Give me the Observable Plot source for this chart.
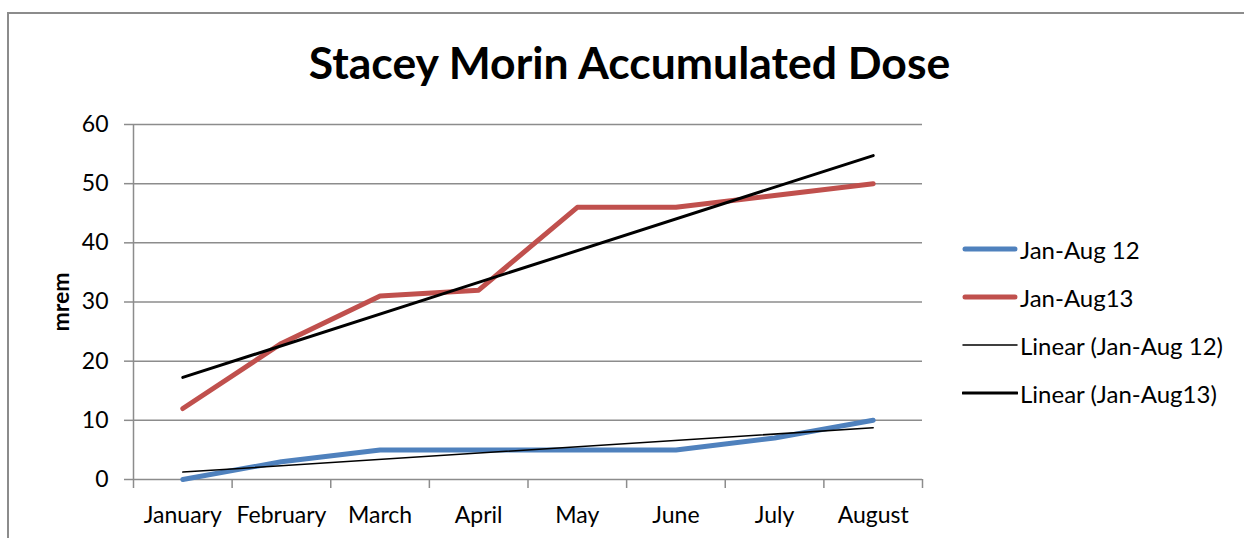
<!DOCTYPE html>
<html>
<head>
<meta charset="utf-8">
<script src="https://cdn.jsdelivr.net/npm/d3@7"></script>
<script src="https://cdn.jsdelivr.net/npm/@observablehq/plot@0.6"></script>
<style>
  html, body { margin: 0; padding: 0; background: #fff; }
  body { width: 1244px; height: 538px; overflow: hidden; position: relative; font-family: Lato, "Open Sans", sans-serif; }
  #frame { position: absolute; left: 7px; top: 12px; width: 1300px; height: 600px; border-left: 2px solid #8c8c8c; border-top: 2px solid #8c8c8c; box-sizing: border-box; }
  #chart { position: absolute; left: 0; top: 0; }
  #title { position: absolute; left: 0; width: 1259px; top: 35px; text-align: center; font-size: 44.5px; font-weight: bold; color: #000; white-space: nowrap; }
  #ylabel { position: absolute; left: 60px; top: 302px; transform: translate(-50%, -50%) rotate(-90deg); font-size: 23px; font-weight: bold; white-space: nowrap; }
  #legend { position: absolute; left: 962px; top: 225px; font-size: 24px; }
  .row { display: flex; align-items: center; height: 48px; white-space: nowrap; }
  .row svg { margin-right: 2px; }
</style>
</head>
<body>
<div id="frame"></div>
<div id="chart"></div>
<div id="title">Stacey Morin Accumulated Dose</div>
<div id="ylabel">mrem</div>
<div id="legend"></div>
<script>
const months = ["January", "February", "March", "April", "May", "June", "July", "August"];
const series12 = [0, 3, 5, 5, 5, 5, 7, 10];
const series13 = [12, 23, 31, 32, 46, 46, 48, 50];
const yTicks = [0, 10, 20, 30, 40, 50, 60];
const seriesNames = ["Jan-Aug 12", "Jan-Aug13"];
const seriesColors = ["#4F81BD", "#C0504D"];

const data12 = months.map((m, i) => ({i: i + 1, month: m, value: series12[i]}));
const data13 = months.map((m, i) => ({i: i + 1, month: m, value: series13[i]}));
const boundaries = d3.range(0.5, months.length + 1, 1);

const plot = Plot.plot({
  width: 1244,
  height: 538,
  marginLeft: 133,
  marginRight: 322,
  marginTop: 124,
  marginBottom: 59,
  style: {fontFamily: "Lato, 'Open Sans', sans-serif", fontSize: "23px", color: "#000", background: "transparent"},
  x: {type: "linear", domain: [0.5, months.length + 0.5]},
  y: {domain: [0, 60]},
  marks: [
    Plot.ruleY(yTicks, {y: d => d, stroke: "#8c8c8c", strokeWidth: 1.5}),
    Plot.ruleX([0.5], {stroke: "#8c8c8c", strokeWidth: 1.5}),
    Plot.axisY({ticks: yTicks, tickSize: 9, tickPadding: 16, stroke: "#8c8c8c", strokeWidth: 1.5, label: null, fill: "#000"}),
    Plot.axisX({ticks: boundaries, tickSize: 9, tickFormat: () => "", stroke: "#8c8c8c", strokeWidth: 1.5, label: null}),
    Plot.axisX({ticks: d3.range(1, months.length + 1), tickSize: 0, tickPadding: 27, tickFormat: d => months[d - 1], label: null, fill: "#000"}),
    Plot.line(data12, {x: "i", y: "value", stroke: seriesColors[0], strokeWidth: 5}),
    Plot.line(data13, {x: "i", y: "value", stroke: seriesColors[1], strokeWidth: 5}),
    Plot.linearRegressionY(data12, {x: "i", y: "value", stroke: "#000", strokeWidth: 1.5, ci: 0}),
    Plot.linearRegressionY(data13, {x: "i", y: "value", stroke: "#000", strokeWidth: 3, ci: 0})
  ]
});
document.getElementById("chart").appendChild(plot);

const legendItems = [
  {label: seriesNames[0], color: seriesColors[0], w: 5},
  {label: seriesNames[1], color: seriesColors[1], w: 5},
  {label: "Linear (" + seriesNames[0] + ")", color: "#000", w: 1.5},
  {label: "Linear (" + seriesNames[1] + ")", color: "#000", w: 3}
];
const legend = document.getElementById("legend");
for (const item of legendItems) {
  const row = document.createElement("div");
  row.className = "row";
  row.innerHTML = `<svg width="56" height="10"><line x1="${item.w > 4 ? 3 : 1}" x2="${item.w > 4 ? 53 : 55}" y1="5" y2="5" stroke="${item.color}" stroke-width="${item.w}" stroke-linecap="round"/></svg><span>${item.label}</span>`;
  legend.appendChild(row);
}
</script>
</body>
</html>
